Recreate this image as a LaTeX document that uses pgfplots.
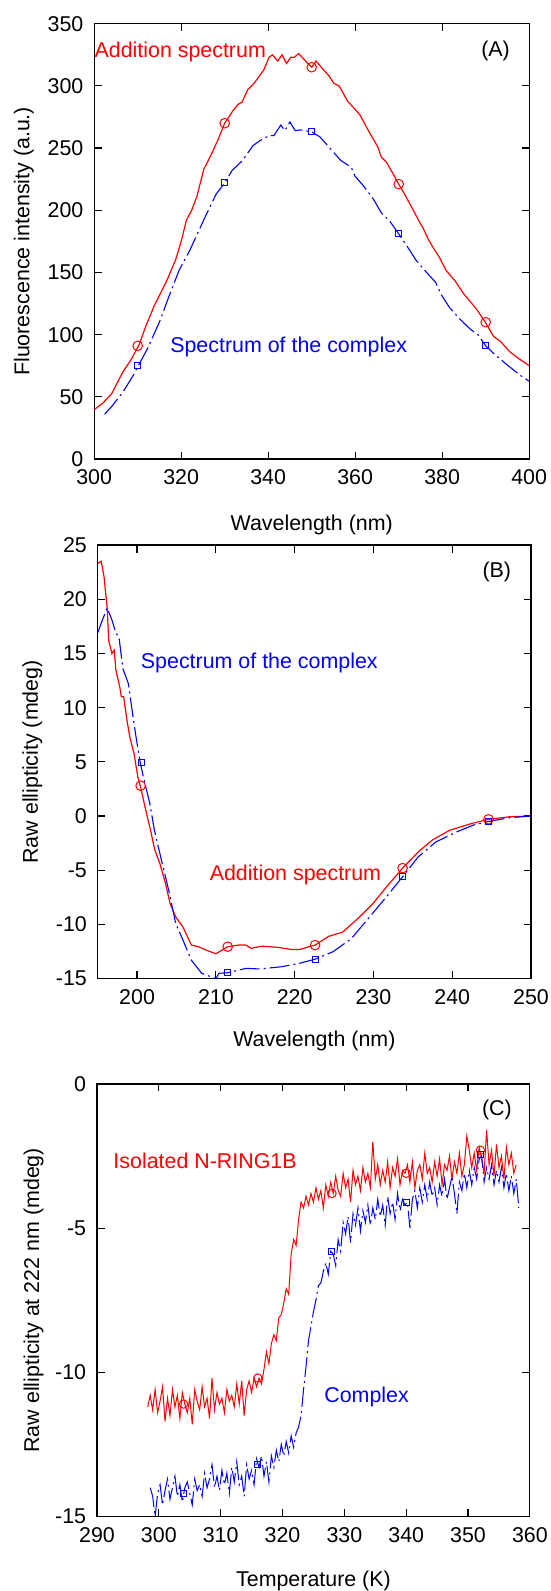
\documentclass[border=0pt]{standalone}
\usepackage{fontspec}
\setmainfont{Liberation Sans}
\usepackage{pgfplots}
\pgfplotsset{compat=1.18}

\definecolor{specred}{RGB}{255,0,0}
\definecolor{specblue}{RGB}{0,0,255}

\tikzset{note/.style={anchor=base west, inner sep=0pt}}

\pgfplotsset{
  panel/.style={
    scale only axis,
    anchor=north west,
    axis line style={line width=0.6pt},
    tick style={black, line width=0.6pt},
    major tick length=3.75pt,
    tick align=inside,
    font=\fontsize{10.7}{12.8}\selectfont,
    tick label style={font=\fontsize{10.7}{12.8}\selectfont},
    /pgf/number format/assume math mode=true,
    xticklabel style={yshift=-1.9pt},
    yticklabel style={xshift=-1.9pt},
  },
  redline/.style={color=specred, line width=0.6pt, mark=none},
  blueline/.style={color=specblue, line width=0.55pt, mark=none,
    dash pattern=on 10pt off 2pt on 1pt off 2pt},
  redmarks/.style={color=specred, only marks, mark=o, mark size=2.4pt,
    mark options={line width=0.5pt}},
  bluemarks/.style={color=specblue, only marks, mark=square, mark size=1.5pt,
    mark options={line width=0.5pt, solid}},
}

\begin{document}
\begin{tikzpicture}
\path[use as bounding box] (0,0) rectangle (275.5pt,-795.5pt);

% (A) fluorescence
\begin{axis}[panel, at={(47.1pt,-11.85pt)}, width=217.5pt, height=217.65pt,
  xmin=300, xmax=400, ymin=0, ymax=350,
  xtick={300,320,...,400}, ytick={0,50,...,350},
  xlabel={Wavelength (nm)}, ylabel={Fluorescence intensity (a.u.)},
  xlabel style={at={(axis description cs:0.5,-0.1647)}, anchor=base},
  ylabel style={at={(axis description cs:-0.1492,0.5)}, anchor=base}]
\addplot[redline] coordinates {
(300,39.7)(302,45)(304,52.4)(306.6,70)(308.5,80)(310.3,91.8)(312,108)
(313.9,124)(315.5,135)(316.7,143.5)(318.7,160)(320,175)(321.2,192)
(322.4,200)(323.6,211)(325.2,233)(326.8,244)(328.5,257)(330,270)
(331.7,279)(333,285)(334,287)(335.3,297)(336.5,301)(337.7,306.5)
(339,313)(340.2,323)(341,325)(342.2,320)(343.2,325)(344.2,318)
(345.2,323)(346,323)(347,326)(348.6,320)(350,315)(351,320)(352.7,313)
(354,308)(355.1,302)(356.3,300)(358.3,287.5)(359.5,283)(361.1,276.6)
(363.2,263)(365.2,251)(366,242.7)(367.2,238.6)(368.6,230)(370,221)
(371.5,212)(372.9,203)(374.5,192.4)(375.7,185)(376.9,176)(378.1,169)
(379.3,162.5)(380.9,151.6)(382.9,143.5)(385,132.6)(386.6,126)(388.2,119)
(390,109.5)(391.8,98.6)(393.4,94.6)(395.5,86.4)(397.5,81)(400,75)};
\addplot[redmarks] coordinates {(310,91)(330,270)(350,315)(370,221)(390,110)};
\addplot[blueline] coordinates {
(302.4,36)(304.2,43)(306.6,53.8)(309,67.4)(310.2,75.5)(312.3,89)
(315.1,111)(317.1,130)(319.5,151.6)(322,168)(325.2,192.4)(328,212.8)
(330,222)(331.7,232)(334.1,240)(336.5,252)(338.1,256)(340.2,260)
(341.3,260)(342.9,268.5)(343.8,264)(345,271)(346.2,264)(347.4,264.6)
(350,263)(351.9,259)(354.3,249.5)(356.7,240)(359.1,234.5)(359.9,227.7)
(361.9,219.6)(364,210)(366,198)(368,191)(370,181)(372,170.7)(374,159.8)
(376,151.6)(378.5,142)(379.7,132.6)(381.7,121.7)(384.2,112)(386.6,104)
(388.2,100)(390,91)(392.2,83.7)(395,75.5)(397.9,67.4)(400,62.5)};
\addplot[bluemarks] coordinates {(310,75.5)(330,222)(350,263)(370,181)(390,91)};
\node[note, text=specred] at (axis cs:300,322.8) {Addition spectrum};
\node[note, text=specblue] at (axis cs:317.4,85.6) {Spectrum of the complex};
\node[note] at (axis cs:388.9,323.4) {(A)};
\end{axis}

% (B) far-UV CD
\begin{axis}[panel, at={(48.85pt,-272.5pt)}, width=216.65pt, height=216.85pt,
  xmin=195, xmax=250, ymin=-15, ymax=25,
  xtick={200,210,...,250}, ytick={-15,-10,...,25},
  xlabel={Wavelength (nm)}, ylabel={Raw ellipticity (mdeg)},
  xlabel style={at={(axis description cs:0.5,-0.1568)}, anchor=base},
  ylabel style={at={(axis description cs:-0.1378,0.5)}, anchor=base}]
\addplot[redline] coordinates {
(195,23.3)(195.45,23.5)(195.8,22.1)(196.2,19.2)(196.4,16.2)(196.8,15.0)
(197.1,15.3)(197.3,13.5)(197.8,11.9)(198,11.0)(198.3,11.0)(198.7,8.9)
(199.1,7.2)(199.6,5.8)(200.1,3.6)(200.4,2.8)(200.9,1.2)(201.3,-0.06)
(201.8,-1.6)(202.2,-3.0)(202.9,-4.4)(203.6,-6.2)(204.2,-8.1)(204.9,-9.3)
(205.8,-10.2)(206.9,-11.9)(207.8,-12.05)(208.9,-12.4)(210,-12.7)
(210.7,-12.4)(211.5,-12.05)(212.9,-11.9)(213.8,-11.9)(214.5,-12.2)
(215.8,-12.0)(217.8,-12.1)(219.6,-12.3)(220.7,-12.3)(221.8,-12.05)
(222.6,-11.9)(224.3,-11.1)(226.1,-10.7)(228.1,-9.4)(229.9,-8.1)
(231.7,-6.5)(233.7,-4.8)(235.7,-3.3)(237.5,-2.2)(239.7,-1.3)(242.4,-0.7)
(244.6,-0.3)(247.3,-0.06)(250,0)};
\addplot[redmarks] coordinates {(200.45,2.8)(211.5,-12.05)(222.6,-11.9)(233.7,-4.8)(244.6,-0.3)};
\addplot[blueline] coordinates {
(195,16.9)(195.5,17.9)(196.2,19.2)(196.8,18.1)(197.3,16.9)(197.7,16.5)
(198.2,13.6)(198.9,12.2)(199.3,10.1)(199.8,7.6)(200.4,4.9)(200.9,3.3)
(201.6,1.2)(202.2,-1.3)(203.1,-4.1)(204,-6.8)(204.9,-9.9)(205.8,-11.4)
(206.9,-13.3)(208.2,-14.5)(209.3,-14.8)(210,-15.0)(210.4,-14.5)
(211.5,-14.45)(213.8,-14.05)(215.6,-14.1)(218.3,-13.9)(220.5,-13.6)
(222.6,-13.2)(224.9,-12.5)(227.2,-11.3)(229.4,-9.4)(231.7,-7.4)
(233.7,-5.6)(235.7,-3.75)(237.9,-2.4)(240.6,-1.45)(242.8,-0.8)
(244.6,-0.5)(247.3,-0.15)(250,0)};
\addplot[bluemarks] coordinates {(200.5,4.9)(211.5,-14.45)(222.6,-13.2)(233.7,-5.6)(244.6,-0.5)};
\node[note, text=specblue] at (axis cs:200.44,13.6) {Spectrum of the complex};
\node[note, text=specred] at (axis cs:209.18,-5.9) {Addition spectrum};
\node[note] at (axis cs:243.8,22.0) {(B)};
\end{axis}

% (C) thermal denaturation
\begin{axis}[panel, at={(48.5pt,-541.95pt)}, width=216.45pt, height=216.3pt,
  xmin=290, xmax=360, ymin=-15, ymax=0,
  xtick={290,300,...,360}, ytick={-15,-10,-5,0},
  xlabel={Temperature (K)}, ylabel={Raw ellipticity at 222 nm (mdeg)},
  xlabel style={at={(axis description cs:0.5,-0.1607)}, anchor=base},
  ylabel style={at={(axis description cs:-0.1335,0.5)}, anchor=base}]
\addplot[redline, line width=0.5pt] table {
298.2 -11.2
298.6 -10.8
299.0 -11.3
299.4 -10.6
299.8 -11.4
300.2 -11.0
300.6 -10.5
301.0 -11.7
301.4 -10.9
301.8 -11.5
302.2 -10.6
302.6 -11.2
303.0 -10.8
303.4 -11.6
303.8 -10.7
304.2 -11.1
304.6 -11.4
305.0 -10.9
305.4 -11.8
305.8 -10.6
306.2 -11.0
306.6 -11.3
307.0 -10.5
307.4 -11.2
307.8 -10.9
308.2 -11.6
308.6 -10.2
309.0 -11.3
309.4 -10.7
309.8 -11.1
310.2 -10.9
310.6 -11.4
311.0 -10.6
311.4 -11.0
311.8 -10.8
312.2 -11.2
312.6 -10.4
313.0 -11.1
313.4 -10.3
313.8 -11.5
314.2 -10.6
314.6 -10.3
315.0 -10.7
315.4 -10.2
315.8 -10.5
316.2 -10.2
316.6 -10.4
317.0 -9.9
317.4 -9.3
317.8 -9.7
318.2 -9.0
318.6 -8.7
319.0 -8.9
319.4 -8.1
319.8 -8.0
320.2 -7.6
320.6 -7.1
321.0 -7.3
321.4 -5.9
321.8 -5.4
322.2 -5.6
322.6 -4.7
323.0 -4.1
323.4 -4.3
323.8 -3.9
324.2 -4.2
324.6 -3.8
325.0 -4.1
325.4 -3.6
325.8 -4.0
326.2 -3.7
326.6 -4.3
327.0 -3.5
327.4 -3.9
327.8 -3.4
328.2 -3.8
328.6 -3.2
329.0 -3.7
329.4 -3.9
329.8 -3.1
330.2 -3.6
330.6 -3.3
331.0 -4.1
331.4 -3.0
331.8 -3.5
332.2 -3.2
332.6 -3.7
333.0 -2.9
333.4 -3.4
333.8 -3.1
334.2 -3.6
334.6 -2.0
335.0 -3.3
335.4 -2.8
335.8 -3.5
336.2 -3.0
336.6 -3.4
337.0 -2.7
337.4 -3.6
337.8 -2.9
338.2 -3.2
338.6 -2.6
339.0 -3.5
339.4 -3.0
339.8 -3.1
340.2 -2.8
340.6 -3.4
341.0 -2.7
341.4 -3.6
341.8 -3.0
342.2 -2.8
342.6 -3.3
343.0 -2.4
343.4 -3.1
343.8 -2.9
344.2 -3.4
344.6 -2.7
345.0 -3.2
345.4 -2.6
345.8 -3.5
346.2 -2.8
346.6 -3.0
347.0 -2.5
347.4 -3.3
347.8 -2.7
348.2 -3.1
348.6 -2.4
349.0 -3.2
349.4 -2.8
349.8 -1.8
350.2 -2.3
350.6 -2.9
351.0 -2.4
351.4 -3.0
351.8 -2.2
352.2 -2.6
352.6 -3.1
353.0 -1.6
353.4 -2.8
353.8 -2.3
354.2 -3.2
354.6 -2.1
355.0 -2.9
355.4 -2.5
355.8 -3.3
356.2 -2.2
356.6 -2.8
357.0 -2.4
357.4 -3.1
357.8 -2.8
};
\addplot[redmarks, mark size=2.1pt] coordinates {(304,-11.1)(316,-10.2)(328,-3.8)(340,-3.1)(352,-2.3)};
\addplot[blueline, line width=0.5pt] table {
298.6 -14.0
299.0 -14.3
299.4 -15.0
299.8 -14.2
300.2 -13.9
300.6 -14.6
301.0 -14.1
301.4 -13.7
301.8 -14.4
302.2 -14.0
302.6 -13.6
303.0 -14.3
303.4 -13.9
303.8 -14.5
304.2 -14.0
304.6 -13.8
305.0 -14.2
305.4 -14.6
305.8 -13.7
306.2 -14.1
306.6 -13.9
307.0 -14.3
307.4 -13.5
307.8 -14.0
308.2 -13.7
308.6 -13.2
309.0 -14.0
309.4 -13.6
309.8 -14.1
310.2 -13.4
310.6 -13.9
311.0 -13.5
311.4 -14.2
311.8 -13.3
312.2 -13.8
312.6 -13.1
313.0 -13.9
313.4 -13.6
313.8 -14.3
314.2 -13.2
314.6 -13.7
315.0 -13.4
315.4 -13.9
315.8 -13.0
316.2 -13.3
316.6 -12.9
317.0 -13.6
317.4 -13.1
317.8 -13.8
318.2 -12.9
318.6 -13.3
319.0 -12.7
319.4 -13.1
319.8 -12.5
320.2 -12.9
320.6 -12.4
321.0 -12.8
321.4 -12.2
321.8 -12.6
322.2 -12.1
322.6 -11.9
323.0 -11.5
323.4 -10.6
323.8 -9.8
324.2 -8.9
324.6 -8.4
325.0 -7.9
325.4 -7.5
325.8 -7.0
326.2 -6.9
326.6 -6.5
327.0 -6.2
327.4 -6.6
327.8 -5.8
328.2 -5.9
328.6 -6.3
329.0 -5.4
329.4 -5.8
329.8 -4.8
330.2 -5.2
330.6 -4.6
331.0 -5.5
331.4 -4.5
331.8 -4.9
332.2 -4.3
332.6 -5.1
333.0 -4.4
333.4 -4.8
333.8 -4.2
334.2 -4.9
334.6 -4.3
335.0 -4.7
335.4 -4.0
335.8 -4.6
336.2 -4.2
336.6 -4.9
337.0 -3.9
337.4 -4.5
337.8 -4.1
338.2 -4.7
338.6 -3.8
339.0 -4.4
339.4 -4.0
339.8 -4.2
340.2 -4.1
340.6 -5.0
341.0 -4.0
341.4 -3.7
341.8 -4.3
342.2 -3.6
342.6 -4.1
343.0 -3.5
343.4 -4.0
343.8 -3.4
344.2 -3.9
344.6 -3.6
345.0 -4.2
345.4 -3.5
345.8 -3.9
346.2 -3.3
346.6 -4.0
347.0 -3.6
347.4 -3.2
347.8 -3.8
348.2 -4.5
348.6 -3.4
349.0 -3.7
349.4 -3.1
349.8 -3.6
350.2 -3.0
350.6 -3.5
351.0 -2.9
351.4 -3.3
351.8 -2.6
352.2 -2.5
352.6 -3.4
353.0 -2.9
353.4 -3.3
353.8 -2.8
354.2 -3.5
354.6 -3.0
355.0 -3.4
355.4 -2.9
355.8 -3.6
356.2 -3.1
356.6 -3.7
357.0 -3.2
357.4 -3.8
357.8 -3.3
358.2 -4.3
};
\addplot[bluemarks] coordinates {(304,-14.2)(316,-13.2)(328,-5.8)(340,-4.1)(352,-2.45)};
\node[note, text=specred] at (axis cs:292.6,-2.92) {Isolated N-RING1B};
\node[note, text=specblue] at (axis cs:326.7,-11.06) {Complex};
\node[note] at (axis cs:352.2,-1.10) {(C)};
\end{axis}
\end{tikzpicture}
\end{document}
